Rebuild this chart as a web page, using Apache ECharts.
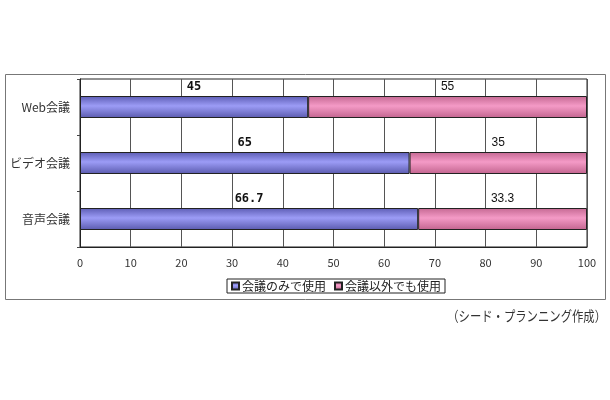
<!DOCTYPE html>
<html><head><meta charset="utf-8">
<script src="https://cdn.jsdelivr.net/npm/echarts@6/dist/echarts.min.js"></script>
<style>html,body{margin:0;padding:0;background:#fff}#c{width:610px;height:400px}</style>
</head><body><div id="c"></div>
<script>
var categories = ['Web会議', 'ビデオ会議', '音声会議'];
var onlyMeeting = [45, 65, 66.7];
var otherUse = [55, 35, 33.3];
var seriesNames = ['会議のみで使用', '会議以外でも使用'];
var xTicks = {min: 0, max: 100, interval: 10};
var sourceNote = '（シード・プランニング作成）';

var FONT = '"Noto Sans CJK JP", sans-serif';
function grad(c0, c1, c2) {
  return new echarts.graphic.LinearGradient(0, 0, 0, 1, [
    {offset: 0, color: c0}, {offset: 0.45, color: c1}, {offset: 1, color: c2}
  ]);
}
var chart = echarts.init(document.getElementById('c'), null, {renderer: 'canvas'});
chart.setOption({
  backgroundColor: '#fff',
  animation: false,
  textStyle: {fontFamily: FONT},
  grid: {left: 80, right: 23, top: 79, bottom: 153, show: true, borderColor: '#222', borderWidth: 1},
  xAxis: {
    type: 'value', min: xTicks.min, max: xTicks.max, interval: xTicks.interval,
    axisLine: {show: true, lineStyle: {color: '#222'}},
    axisTick: {show: false},
    axisLabel: {color: '#333', fontSize: 11, margin: 10, fontFamily: FONT},
    splitLine: {show: true, lineStyle: {color: '#555', width: 1}}
  },
  yAxis: {
    type: 'category', data: categories, inverse: true,
    axisLine: {show: true, lineStyle: {color: '#222'}},
    axisTick: {show: true, length: 3, lineStyle: {color: '#444'}},
    axisLabel: {color: '#333', fontSize: 12, margin: 10, fontFamily: FONT},
    splitLine: {show: false}
  },
  legend: {
    data: seriesNames,
    left: 227, top: 279,
    orient: 'horizontal',
    itemWidth: 7, itemHeight: 7, itemGap: 8,
    icon: 'rect',
    padding: [1, 4, 1, 4],
    borderColor: '#222', borderWidth: 1,
    textStyle: {fontSize: 12, color: '#222', fontFamily: FONT, padding: [0, 0, 0, -2]}
  },
  series: [
    {
      name: seriesNames[0], type: 'bar', stack: 'a', data: onlyMeeting, barWidth: 22,
      itemStyle: {color: grad('#5c5cb4', '#9c9cf6', '#5a5aae'), borderColor: '#222', borderWidth: 1},
      label: {show: true, position: 'top', distance: 3, color: '#111', fontSize: 12, fontWeight: 'bold', fontFamily: '"DejaVu Sans Mono", monospace'},
      legendHoverLink: false
    },
    {
      name: seriesNames[1], type: 'bar', stack: 'a', data: otherUse, barWidth: 22,
      itemStyle: {color: grad('#c46892', '#f49ac6', '#c2648e'), borderColor: '#222', borderWidth: 1},
      label: {show: true, position: 'top', distance: 3, color: '#111', fontSize: 12, fontFamily: '"Liberation Sans", Arial, sans-serif'}
    }
  ],
  color: ['#8585e0', '#ee8fbf'],
  graphic: [
    {type: 'rect', left: 3, top: 72, shape: {width: 600, height: 225}, style: {fill: 'none', stroke: '#777', lineWidth: 1}, z: -1},
    {type: 'text', x: 606, y: 309, scaleX: 0.81, originX: 0, style: {text: sourceNote, textAlign: 'right', font: '14px "Noto Sans CJK JP"', fill: '#333'}}
  ]
});
</script></body></html>
